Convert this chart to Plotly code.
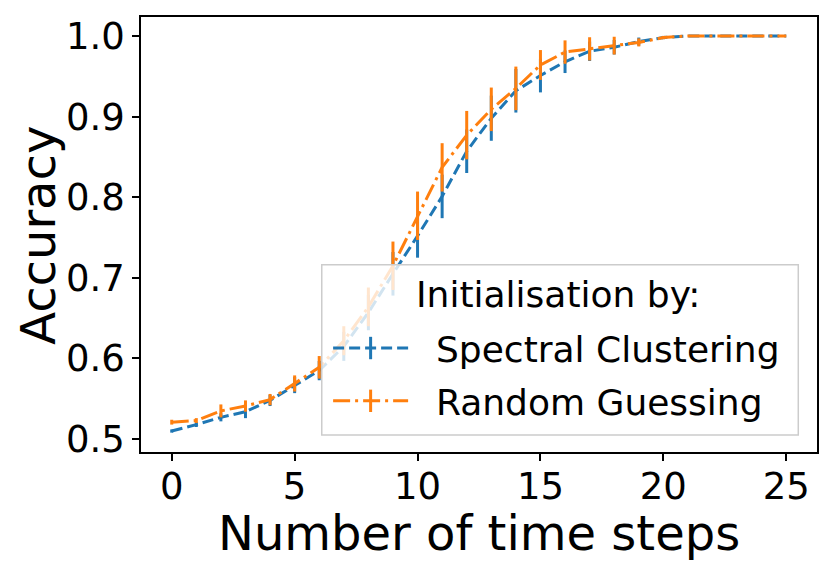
import plotly.graph_objects as go

steps = list(range(26))

spectral_acc = [0.510, 0.518, 0.527, 0.534, 0.548, 0.567, 0.585, 0.615, 0.657, 0.705,
                0.752, 0.801, 0.857, 0.898, 0.932, 0.951, 0.968, 0.981, 0.986, 0.993,
                0.998, 1.0, 1.0, 1.0, 1.0, 1.0]
spectral_err = [0.002, 0.003, 0.005, 0.008, 0.007, 0.010, 0.012, 0.018, 0.022, 0.027,
                0.027, 0.027, 0.027, 0.028, 0.027, 0.021, 0.014, 0.012, 0.009, 0.005,
                0.002, 0.0, 0.0, 0.0, 0.0, 0.0]

random_acc = [0.521, 0.523, 0.535, 0.541, 0.549, 0.569, 0.589, 0.622, 0.664, 0.715,
              0.777, 0.837, 0.877, 0.909, 0.935, 0.964, 0.980, 0.984, 0.988, 0.992,
              0.998, 1.0, 1.0, 1.0, 1.0, 1.0]
random_err = [0.003, 0.003, 0.008, 0.007, 0.007, 0.010, 0.014, 0.018, 0.024, 0.030,
              0.030, 0.030, 0.030, 0.027, 0.027, 0.0185, 0.0145, 0.0144, 0.011, 0.005,
              0.002, 0.0, 0.0, 0.0, 0.0, 0.0]

series_names = ["Spectral Clustering", "Random Guessing"]
legend_title = "Initialisation by:"
colors = ["#1f77b4", "#ff7f0e"]
dashes = ["11px,5px", "17px,5px,3px,5px"]
x_ticks = [0, 5, 10, 15, 20, 25]
y_ticks = [0.5, 0.6, 0.7, 0.8, 0.9, 1.0]

FONT = "DejaVu Sans"
TICK_SIZE = 37
LEG_SIZE = 36
LABEL_SIZE = 48
LW = 3

fig = go.Figure()

for name, ys, errs, c, d in zip(series_names, [spectral_acc, random_acc],
                                [spectral_err, random_err], colors, dashes):
    fig.add_trace(go.Scatter(
        x=steps, y=ys, mode="lines", name=name, showlegend=False,
        line=dict(color=c, width=LW, dash=d),
        error_y=dict(type="data", array=errs, visible=True, color=c,
                     thickness=LW, width=0),
    ))

# legend entries (line + vertical error-bar glyph)
for name, c, d in zip(series_names, colors, dashes):
    fig.add_trace(go.Scatter(
        x=[None], y=[None], mode="lines+markers",
        name="\u00a0\u00a0" + name, legendgroup=name,
        line=dict(color=c, width=LW, dash=d),
        marker=dict(symbol="line-ns-open", size=36, color=c,
                    line=dict(color=c, width=LW)),
    ))

fig.update_layout(
    width=831, height=572,
    margin=dict(l=133, r=22, t=7, b=128),
    paper_bgcolor="white", plot_bgcolor="white",
    font=dict(family=FONT, size=TICK_SIZE, color="black"),
    showlegend=True,
    legend=dict(
        font=dict(family=FONT, size=LEG_SIZE),
        x=0.2768, xanchor="left", y=0.048, yanchor="bottom",
        bgcolor="rgba(0,0,0,0)", borderwidth=0,
        itemwidth=75, tracegroupgap=3,
    ),
    shapes=[
        dict(type="rect", xref="paper", yref="paper",
             x0=0.2674, x1=0.9723, y0=0.0389, y1=0.4302, layer="above",
             fillcolor="rgba(255,255,255,0.8)",
             line=dict(color="#cccccc", width=1.5)),
    ],
    xaxis=dict(
        range=[-1.25, 26.25], tickvals=x_ticks, ticks="outside", ticklen=7,
        tickwidth=1.5, tickcolor="black", showline=True, linecolor="black",
        linewidth=1.5, mirror=True, showgrid=False, zeroline=False,
        tickfont=dict(family=FONT, size=TICK_SIZE), ticklabelstandoff=-6,
    ),
    yaxis=dict(
        range=[0.484, 1.0235], tickvals=y_ticks, tickformat=".1f", ticks="outside",
        ticklen=7, tickwidth=1.5, tickcolor="black", showline=True,
        linecolor="black", linewidth=1.5, mirror=True, showgrid=False,
        zeroline=False, tickfont=dict(family=FONT, size=TICK_SIZE),
    ),
    annotations=[
        dict(text=legend_title, x=0.618, y=0.3616, xref="paper", yref="paper",
             xanchor="center", yanchor="middle", showarrow=False,
             font=dict(family=FONT, size=LEG_SIZE)),
        dict(text="Number of time steps", x=0.5, y=0, xref="paper", yref="paper",
             xanchor="center", yanchor="middle", yshift=-81, showarrow=False,
             font=dict(family=FONT, size=LABEL_SIZE)),
        dict(text="Accuracy", x=0, y=0.497, xref="paper", yref="paper",
             xanchor="center", yanchor="middle", xshift=-103, textangle=-90,
             showarrow=False, font=dict(family=FONT, size=LABEL_SIZE)),
    ],
)

fig.write_html("out.html")
